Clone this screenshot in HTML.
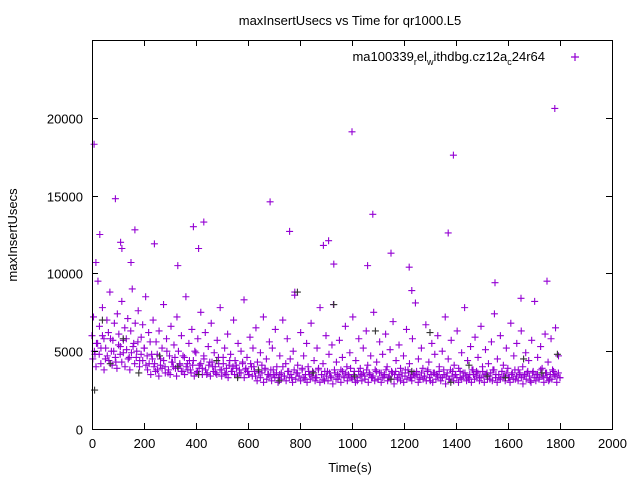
<!DOCTYPE html>
<html><head><meta charset="utf-8"><style>
html,body{margin:0;padding:0;background:#fff}
svg{display:block;font-family:"Liberation Sans",sans-serif}
</style></head><body>
<svg id="chart" width="640" height="480" viewBox="0 0 640 480">
<rect width="640" height="480" fill="#fff"/>
<g id="marks"></g>
<g id="axes"></g>
<text x="350" y="25" font-size="13" text-anchor="middle">maxInsertUsecs vs Time for qr1000.L5</text>
<text x="350" y="472" font-size="13" text-anchor="middle">Time(s)</text>
<text transform="translate(17,235) rotate(-90)" font-size="13" text-anchor="middle">maxInsertUsecs</text>
<g>
<text x="545" y="61" font-size="13" text-anchor="end">ma100339<tspan font-size="9" dy="4">r</tspan><tspan dy="-4">el</tspan><tspan font-size="9" dy="4">w</tspan><tspan dy="-4">ithdbg.cz12a</tspan><tspan font-size="9" dy="4">c</tspan><tspan dy="-4">24r64</tspan></text>
<path d="M571 57h8M575 53v8" stroke="#9400d3" stroke-width="1.2"/>
</g>
</svg>
<script>
const xTicks=[0,200,400,600,800,1000,1200,1400,1600,1800,2000];
const yTicks=[0,5000,10000,15000,20000];
// scatter series: values in hundreds of usecs, evenly spaced over 0..1800 s
const scatterY=[60,72,48,55,95,66,52,78,58,45,70,62,88,50,57,68,43,74,61,53,82,49,65,58,71,46,63,90,55,68,50,76,44,59,67,52,85,47,62,56,
48,70,42,56,38,63,45,52,80,40,58,36,47,66,43,54,39,72,50,41,60,37,46,85,42,55,38,64,44,50,36,58,41,75,39,47,62,35,53,43,68,40,49,36,57,42,78,38,46,52,35,61,41,48,37,70,44,39,55,36,50,42,83,38,46,35,59,40,52,37,65,43,36,49,41,72,38,45,35,56,
38,52,35,64,40,33,47,36,70,34,42,58,37,45,33,50,86,36,41,34,62,38,47,32,55,40,35,68,37,44,33,52,39,78,35,42,31,60,37,48,34,54,80,36,43,32,57,38,46,34,66,40,35,49,33,72,37,44,31,58,39,35,52,34,63,41,36,47,33,75,38,43,32,56,36,48,34,61,40,33,51,37,69,35,44,32,54,39,36,47,34,64,38,42,33,58,36,81,35,45,32,52,39,34,67,37,43,31,55,36,48,35,60,40,33,50,38,72,34,45,32,57,37,41,35,63,39,33,49,36,78,34,44,32,53,38,35,59,37,46,33,66,40,34,51,36,42,32,56,38,74,35,45,33,60,37,41,34,52,39,33,68,36,47,32,55,38,35,63,40,34,49,36,44,31,57,37,82,35,46,33,53,39,34,61,36,43,32,58,38,35,65,34,47,33];
// dense band series: evenly spaced over 3..1800 s
const bandY=[45,50,40,55,48,42,60,38,52,47,44,58,41,50,46,39,54,48,43,57,40,51,45,38,49,53,42,46,56,40,48,44,52,41,
38,42,35,45,40,37,48,34,41,39,44,36,50,38,35,43,40,46,34,39,42,37,47,35,40,38,44,36,41,34,49,37,39,42,35,45,38,36,41,34,43,37,40,35,46,38,34,42,36,39,33,44,37,40,35,41,34,38,36,43,33,39,37,35,42,34,40,
34,31,37,33,36,30,39,32,35,34,31,38,33,36,30,35,32,40,34,31,37,33,35,30,38,32,36,34,31,39,33,35,30,37,32,34,36,31,33,38,30,35,32,37,34,31,36,33,29,38,32,35,34,30,37,33,36,31,34,39,32,35,30,33,37,34,31,36,32,38,30,35,33,34,31,37,32,36,30,33,35,38,31,34,32,36,29,37,33,35,31,34,30,38,32,36,33,31,35,34,
37,30,33,36,32,34,31,38,33,35,30,36,32,34,37,31,33,35,29,36,32,38,34,31,35,33,30,37,32,34,36,31,33,35,30,38,32,34,36,31,33,37,30,35,32,34,36,31,38,33,30,35,32,37,34,31,36,33,30,35,32,38,34,31,36,33,29,35,32,37,34,30,36,33,31,35,32,38,34,30,36,33,31,35,32,37,34,30,36,33];
const tStart=0,tEnd=1800;
// high outliers
const outX=[8,15,30,90,110,115,150,165,240,330,390,410,430,685,760,780,890,910,930,1000,1060,1080,1150,1220,1230,1370,1390,1550,1650,1750,1780];
const outY=[183,107,125,148,120,116,107,128,119,105,130,116,133,146,127,88,118,121,106,191,105,138,113,104,89,126,176,94,84,95,206];
// darker overlapping points
const darkX=[10,40,70,120,180,260,330,410,480,560,640,720,790,850,930,1010,1090,1150,1230,1300,1380,1450,1520,1590,1660,1730,1790];
const darkY=[25,70,42,58,36,47,40,35,44,33,38,31,88,36,80,34,63,32,37,62,30,41,34,33,45,36,48];

const X0=92,X1=612,Y0=429,YT=40;
const sx=v=>X0+v/2000*(X1-X0);
const sy=v=>Y0-v/25000*(Y0-YT);
const NS="http://www.w3.org/2000/svg";
const marks=document.getElementById('marks'),axes=document.getElementById('axes');
function plus(x,y,c,name){const p=document.createElementNS(NS,'path');
p.setAttribute('d',`M${x-3.5} ${y}h7M${x} ${y-3.5}v7`);p.setAttribute('stroke',c);p.setAttribute('stroke-width','1.1');


marks.appendChild(p);}
const sStep=(tEnd-tStart)/(scatterY.length-1);
scatterY.forEach((v,i)=>plus(sx(tStart+i*sStep),sy(v*100),'#9400d3','point-scatter'));
const bStep=(tEnd-3)/(bandY.length-1);
bandY.forEach((v,i)=>plus(sx(3+i*bStep),sy(v*100),'#9400d3','point-band'));
outX.forEach((v,i)=>plus(sx(v),sy(outY[i]*100),'#9400d3','point-outlier'));
darkX.forEach((v,i)=>plus(sx(v),sy(darkY[i]*100),'#333','point-dark'));
function line(d,name){const p=document.createElementNS(NS,'path');p.setAttribute('d',d);p.setAttribute('stroke','#000');p.setAttribute('fill','none');


axes.appendChild(p);}
function txt(x,y,s,a,name){const t=document.createElementNS(NS,'text');t.setAttribute('x',x);t.setAttribute('y',y);t.setAttribute('font-size','13');t.setAttribute('text-anchor',a);t.textContent=s;


axes.appendChild(t);}
line(`M${X0+.5} ${YT+.5}H${X1+.5}V${Y0+.5}H${X0+.5}Z`,'plot-border');
xTicks.forEach(v=>{const x=Math.round(sx(v))+.5;line(`M${x} ${Y0}v-6M${x} ${YT}v6`,'x-tick');txt(x,Y0+19,String(v),'middle','x-tick-label');});
yTicks.forEach(v=>{const y=Math.round(sy(v))+.5;line(`M${X0} ${y}h6M${X1} ${y}h-6`,'y-tick');txt(X0-9,y+5,String(v),'end','y-tick-label');});
</script>
</body></html>
